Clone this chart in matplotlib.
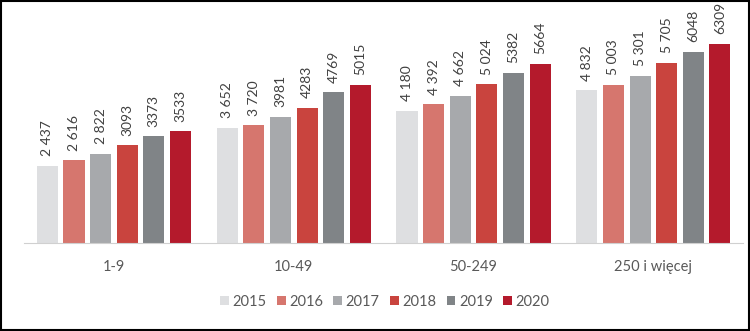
import matplotlib.pyplot as plt
import numpy as np
from matplotlib.patches import Rectangle

plt.rcParams['font.family'] = ['Lato', 'DejaVu Sans']

categories = ["1-9", "10-49", "50-249", "250 i więcej"]
years = ["2015", "2016", "2017", "2018", "2019", "2020"]
values = {
    "2015": [2437, 3652, 4180, 4832],
    "2016": [2616, 3720, 4392, 5003],
    "2017": [2822, 3981, 4662, 5301],
    "2018": [3093, 4283, 5024, 5705],
    "2019": [3373, 4769, 5382, 6048],
    "2020": [3533, 5015, 5664, 6309],
}
labels = {
    "2015": ["2 437", "3 652", "4 180", "4 832"],
    "2016": ["2 616", "3 720", "4 392", "5 003"],
    "2017": ["2 822", "3981", "4 662", "5 301"],
    "2018": ["3093", "4283", "5 024", "5 705"],
    "2019": ["3373", "4769", "5382", "6048"],
    "2020": ["3533", "5015", "5664", "6309"],
}
colors = ["#DEDFE1", "#D6766E", "#A7A9AC", "#C9443E", "#808487", "#B41A2C"]

fig = plt.figure(figsize=(7.5, 3.31), dpi=100)
ax = fig.add_axes([0.032, 0.266, 0.959, 0.668])

x = np.arange(len(categories))
pitch = 0.148
width = 0.117
for i, yr in enumerate(years):
    pos = x + (i - 2.5) * pitch
    bars = ax.bar(pos, values[yr], width, color=colors[i], label=yr, zorder=2)
    for b, lab in zip(bars, labels[yr]):
        ax.annotate(lab, (b.get_x() + b.get_width() / 2, b.get_height()),
                    xytext=(0, 7), textcoords="offset points",
                    rotation=90, ha="center", va="bottom",
                    fontsize=10, color="#404040")

ax.set_xlim(-0.5, 3.5)
ax.set_ylim(0, 7000)
ax.set_yticks([])
ax.set_xticks(x)
ax.set_xticklabels(categories, fontsize=10.5, color="#595959")
ax.tick_params(axis="x", length=0, pad=12)
for s in ["top", "right", "left"]:
    ax.spines[s].set_visible(False)
ax.spines["bottom"].set_color("#D0D0D0")

fig.legend(loc="center", bbox_to_anchor=(0.513, 0.088), ncol=6, frameon=False,
           fontsize=10.5, labelcolor="#595959", handlelength=0.6, handleheight=0.6,
           handletextpad=0.25, columnspacing=0.7)

fig.patches.append(Rectangle((0.001, 0.002), 0.997, 0.995, transform=fig.transFigure,
                             fill=False, edgecolor="black", linewidth=1.5))

fig.savefig("out.png", dpi=100)
